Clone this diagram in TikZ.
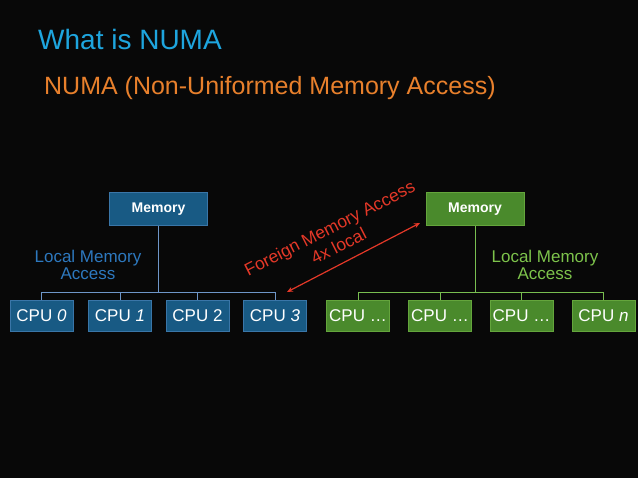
\documentclass[tikz,border=0pt]{standalone}
\usepackage{fontspec}
\setmainfont{Liberation Sans}
\usetikzlibrary{arrows.meta}
\definecolor{bgc}{RGB}{8,8,8}
\definecolor{titlec}{RGB}{30,165,222}
\definecolor{subc}{RGB}{232,128,44}
\definecolor{bluefill}{RGB}{24,90,132}
\definecolor{blueedge}{RGB}{58,118,168}
\definecolor{blueline}{RGB}{110,150,200}
\definecolor{bluetext}{RGB}{45,120,190}
\definecolor{greenfill}{RGB}{74,138,44}
\definecolor{greenedge}{RGB}{100,165,60}
\definecolor{greenline}{RGB}{120,190,80}
\definecolor{greentext}{RGB}{125,195,75}
\definecolor{redc}{RGB}{228,56,40}
\tikzset{
  bluebox/.style={draw=blueedge, fill=bluefill, line width=0.8pt, inner sep=0pt, text=white},
  greenbox/.style={draw=greenedge, fill=greenfill, line width=0.8pt, inner sep=0pt, text=white},
  membox/.style={minimum width=98pt, minimum height=33pt, font=\fontsize{14}{16}\selectfont\bfseries},
  cpubox/.style={minimum width=63pt, minimum height=31pt, font=\fontsize{17}{19}\selectfont},
  bluewire/.style={draw=blueline, line width=1pt},
  greenwire/.style={draw=greenline, line width=1pt},
  locallabel/.style={align=center, font=\fontsize{17}{17.5}\selectfont, inner sep=0pt},
}
\begin{document}
\begin{tikzpicture}[x=1pt, y=-1pt]
\fill[bgc] (0,0) rectangle (638,478);
\useasboundingbox (0,0) rectangle (638,478);

\node[anchor=base west, text=titlec, font=\fontsize{28}{30}\selectfont, inner sep=0pt] (title) at (38,50) {What is NUMA};
\node[anchor=base west, text=subc, font=\fontsize{25}{27}\selectfont, inner sep=0pt] (sub) at (44,95) {NUMA (Non-Uniformed Memory Access)};

% left node
\node[bluebox, membox] (m1) at (158.5,209) {Memory};
\node[bluebox, cpubox] (c0) at (41.5,316) {CPU \textit{0}};
\node[bluebox, cpubox] (c1) at (120,316) {CPU \textit{1}};
\node[bluebox, cpubox] (c2) at (197.5,316) {CPU 2};
\node[bluebox, cpubox] (c3) at (275,316) {CPU \textit{3}};
\coordinate (b1) at (158.5,293);
\draw[bluewire] (m1.south) -- (b1);
\draw[bluewire] (c0.north) -- (c0.north |- b1) -- (c3.north |- b1) -- (c3.north);
\draw[bluewire] (c1.north) -- (c1.north |- b1);
\draw[bluewire] (c2.north) -- (c2.north |- b1);
\node[locallabel, text=bluetext] (l1) at (88,265) {Local Memory\\Access};

% right node
\node[greenbox, membox] (m2) at (475,209) {Memory};
\node[greenbox, cpubox] (g0) at (358,316) {CPU \dots};
\node[greenbox, cpubox] (g1) at (440,316) {CPU \dots};
\node[greenbox, cpubox] (g2) at (521.5,316) {CPU \dots};
\node[greenbox, cpubox] (g3) at (603.5,316) {CPU \textit{n}};
\coordinate (b2) at (475,293);
\draw[greenwire] (m2.south) -- (b2);
\draw[greenwire] (g0.north) -- (g0.north |- b2) -- (g3.north |- b2) -- (g3.north);
\draw[greenwire] (g1.north) -- (g1.north |- b2);
\draw[greenwire] (g2.north) -- (g2.north |- b2);
\node[locallabel, text=greentext] (l2) at (545,265) {Local Memory\\Access};

% foreign access
\coordinate (fa) at (287,292);
\coordinate (fb) at (420,223);
\draw[redc, line width=1.2pt, {Stealth[length=6pt,width=5pt]}-{Stealth[length=6pt,width=5pt]}] (fa) -- (fb);
\node[text=redc, rotate=27, align=center, font=\fontsize{17.5}{20}\selectfont, inner sep=0pt] (fl) at (334,237) {Foreign Memory Access\\4x local};
\end{tikzpicture}
\end{document}
